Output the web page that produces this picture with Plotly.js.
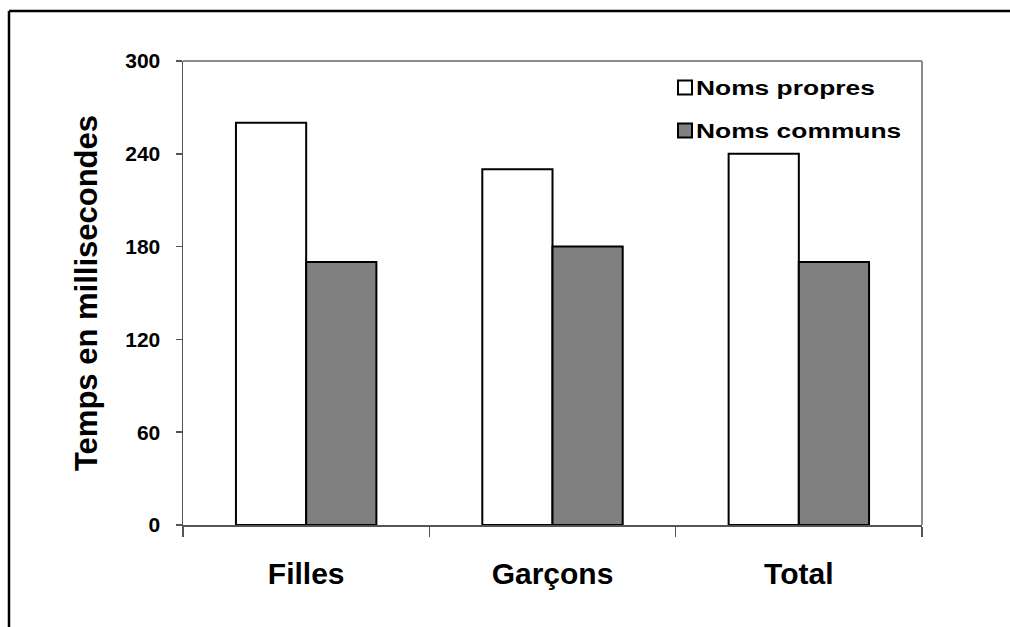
<!DOCTYPE html>
<html>
<head>
<meta charset="utf-8">
<script src="https://cdn.plot.ly/plotly-3.0.1.min.js"></script>
<style>
html,body{margin:0;padding:0;background:#fff;}
#chart{width:1010px;height:627px;}
</style>
</head>
<body>
<div id="chart"></div>
<script>
const categories = ["Filles", "Garçons", "Total"];
const nomsPropres = [260, 230, 240];
const nomsCommuns = [170, 180, 170];
const yTicks = [0, 60, 120, 180, 240, 300];
const seriesNames = ["Noms propres", "Noms communs"];

const FONT = "Liberation Sans, Arial, sans-serif";

const traces = [
  {
    type: "bar", name: seriesNames[0], x: categories, y: nomsPropres,
    marker: {color: "#ffffff", line: {color: "#000000", width: 2}},
    legendgroup: "a"
  },
  {
    type: "bar", name: seriesNames[1], x: categories, y: nomsCommuns,
    marker: {color: "#808080", line: {color: "#000000", width: 2}},
    legendgroup: "b"
  }
];

const L = 183, R = 922, T = 61, B = 525;
const pw = R - L, ph = B - T;
const px = v => (v - L) / pw;
const py = v => (B - v) / ph;

const layout = {
  width: 1010, height: 627,
  margin: {l: L, r: 1010 - R, t: T, b: 627 - B, pad: 0},
  paper_bgcolor: "#ffffff", plot_bgcolor: "#ffffff",
  barmode: "group", bargap: 0.43, bargroupgap: 0,
  showlegend: true,
  legend: {
    x: px(656), y: py(68), xanchor: "left", yanchor: "top",
    bgcolor: "rgba(0,0,0,0)", borderwidth: 0,
    font: {family: FONT, size: 20, color: "#000", weight: "bold"},
    traceorder: "grouped", tracegroupgap: 14
  },
  xaxis: {
    type: "category", range: [-0.5, 2.5],
    showline: true, linecolor: "#555555", linewidth: 2,
    ticks: "outside", tickson: "boundaries", ticklen: 10, tickcolor: "#555555", tickwidth: 1.5,
    tickfont: {family: FONT, size: 30, color: "#000", weight: "bold"},
    ticklabelstandoff: 21,
    showgrid: false, zeroline: false, mirror: false, fixedrange: true
  },
  yaxis: {
    range: [0, 300], tickvals: yTicks, ticktext: yTicks.map(String),
    showline: true, linecolor: "#555555", linewidth: 1.5,
    ticks: "outside", ticklen: 6, tickcolor: "#555555", tickwidth: 1.5,
    tickfont: {family: FONT, size: 21, color: "#000", weight: "bold"},
    ticklabelstandoff: 11,
    showgrid: false, zeroline: false,
    title: {text: "Temps en millisecondes", font: {family: FONT, size: 31, color: "#000", weight: "bold"}, standoff: 18},
    automargin: false, fixedrange: true
  },
  shapes: [
    {type: "line", xref: "paper", yref: "paper", x0: 0, x1: 1, y0: 1, y1: 1, line: {color: "#8c8c8c", width: 2}},
    {type: "line", xref: "paper", yref: "paper", x0: 1, x1: 1, y0: 0, y1: 1, line: {color: "#8c8c8c", width: 2}},
    {type: "line", xref: "paper", yref: "paper", x0: px(9), x1: px(1020), y0: py(11), y1: py(11), line: {color: "#000", width: 2.5}},
    {type: "line", xref: "paper", yref: "paper", x0: px(9), x1: px(9), y0: py(11), y1: py(640), line: {color: "#000", width: 2.5}}
  ]
};

Plotly.newPlot("chart", traces, layout, {displayModeBar: false, staticPlot: true}).then(() => {
  // larger legend swatches placed closer to the text, as in the reference
  document.querySelectorAll(".legendpoints path").forEach(p => {
    p.setAttribute("d", "M16,7H2V-7H16Z");
  });
  // the reference legend text is horizontally wide: stretch it
  const NS = "http://www.w3.org/2000/svg";
  document.querySelectorAll("text.legendtext").forEach(t => {
    const ax = parseFloat(t.getAttribute("x") || "0");
    const g = document.createElementNS(NS, "g");
    t.parentNode.insertBefore(g, t);
    g.appendChild(t);
    g.setAttribute("transform", `translate(${ax},0) scale(1.32,1) translate(${-ax},0)`);
  });
  // let the stretched legend text overflow the legend box
  document.querySelectorAll(".legend, .legend *").forEach(e => {
    if (e.hasAttribute && e.hasAttribute("clip-path")) e.removeAttribute("clip-path");
  });
});
</script>
</body>
</html>
